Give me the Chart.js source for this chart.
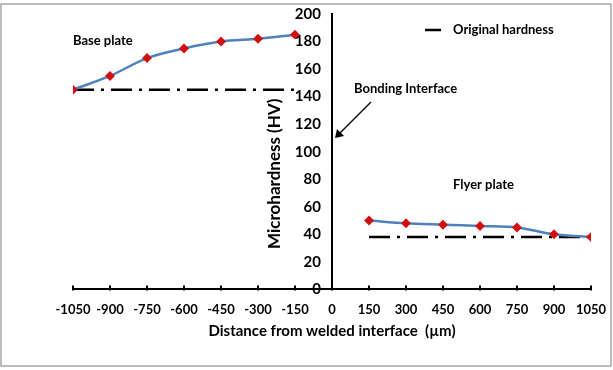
<!DOCTYPE html>
<html>
<head>
<meta charset="utf-8">
<script src="https://cdn.jsdelivr.net/npm/chart.js@4"></script>
<style>
  html, body { margin: 0; padding: 0; background: #fff; }
  canvas { display: block; }
</style>
</head>
<body>
<canvas id="hvChart" width="613" height="370"></canvas>
<script>
// tick values
const xTicks = [-1050, -900, -750, -600, -450, -300, -150, 0, 150, 300, 450, 600, 750, 900, 1050];
const yTicks = [0, 20, 40, 60, 80, 100, 120, 140, 160, 180, 200];

// base plate (left side)
const baseX = [-1050, -900, -750, -600, -450, -300, -150];
const baseHV = [145, 155, 168, 175, 180, 182, 185];
// flyer plate (right side)
const flyerX = [150, 300, 450, 600, 750, 900, 1050];
const flyerHV = [50, 48, 47, 46, 45, 40, 38];
// original hardness
const origBaseX = [-1050, -150];
const origBaseHV = [145, 145];
const origFlyerX = [150, 1050];
const origFlyerHV = [38, 38];

const toPts = (xs, ys) => xs.map((x, i) => ({ x: x, y: ys[i] }));

const FONT = "Lato";
const blue = "#4f81bd";
const red = "#d01010";

// texts, legend, arrow, frame, x tick marks, y title
const extras = {
  id: "extras",
  afterDraw(chart) {
    const ctx = chart.ctx;
    const xs = chart.scales.x;
    const ys = chart.scales.y;
    ctx.save();
    // frame
    ctx.strokeStyle = "#a6a6a6";
    ctx.lineWidth = 1.5;
    ctx.strokeRect(1, 4, 610, 362);
    // x tick marks (above the axis)
    ctx.strokeStyle = "#000";
    ctx.lineWidth = 2;
    xTicks.forEach(v => {
      const px = Math.round(xs.getPixelForValue(v));
      ctx.beginPath();
      ctx.moveTo(px, xs.top - 4);
      ctx.lineTo(px, xs.top + 1);
      ctx.stroke();
    });
    ctx.fillStyle = "#000";
    // y axis title
    ctx.save();
    ctx.translate(xs.getPixelForValue(0) - 57, ys.getPixelForValue(84));
    ctx.rotate(-Math.PI / 2);
    ctx.font = "bold 17px " + FONT;
    ctx.textAlign = "center";
    ctx.textBaseline = "middle";
    ctx.fillText("Microhardness (HV)", 0, 0);
    ctx.restore();
    // labels
    ctx.font = "bold 13px " + FONT;
    ctx.textBaseline = "middle";
    ctx.textAlign = "left";
    ctx.fillText("Base plate", 73, 41);
    ctx.fillText("Bonding Interface", 354, 89);
    ctx.fillText("Flyer plate", 453, 185);
    ctx.fillText("Original hardness", 453, 30);
    // legend sample
    ctx.lineWidth = 2.5;
    ctx.beginPath();
    ctx.moveTo(425, 30);
    ctx.lineTo(441, 30);
    ctx.stroke();
    // arrow
    ctx.lineWidth = 1.3;
    ctx.beginPath();
    ctx.moveTo(371, 102);
    ctx.lineTo(337, 136);
    ctx.stroke();
    ctx.beginPath();
    ctx.moveTo(335, 138);
    ctx.lineTo(337, 129);
    ctx.lineTo(344, 136);
    ctx.closePath();
    ctx.fill();
    ctx.restore();
  }
};

new Chart(document.getElementById("hvChart"), {
  type: "line",
  data: {
    datasets: [
      {
        label: "Base plate",
        data: toPts(baseX, baseHV),
        borderColor: blue,
        borderWidth: 2.5,
        tension: 0.3,
        pointStyle: "rectRot",
        pointRadius: 3.2,
        pointBackgroundColor: red,
        pointBorderColor: red
      },
      {
        label: "Flyer plate",
        data: toPts(flyerX, flyerHV),
        borderColor: blue,
        borderWidth: 2.5,
        tension: 0.3,
        pointStyle: "rectRot",
        pointRadius: 3.2,
        pointBackgroundColor: red,
        pointBorderColor: red
      },
      {
        label: "Original hardness",
        data: toPts(origBaseX, origBaseHV),
        borderColor: "#000",
        borderWidth: 2.5,
        borderDash: [21, 7, 3, 7],
        pointRadius: 0
      },
      {
        label: "Original hardness (flyer)",
        data: toPts(origFlyerX, origFlyerHV),
        borderColor: "#000",
        borderWidth: 2.5,
        borderDash: [21, 7, 3, 7],
        pointRadius: 0
      }
    ]
  },
  options: {
    responsive: false,
    animation: false,
    layout: { padding: { left: 73, right: 22, top: 14, bottom: 30 } },
    scales: {
      x: {
        type: "linear",
        min: -1050,
        max: 1050,
        afterBuildTicks: s => { s.ticks = xTicks.map(v => ({ value: v })); },
        afterFit: s => { s.paddingLeft = 0; s.paddingRight = 0; },
        grid: { display: false, drawTicks: false },
        border: { display: true, color: "#000", width: 2 },
        ticks: { color: "#000", font: { family: FONT, size: 13, weight: "bold" }, padding: 13, maxRotation: 0, autoSkip: false, callback: v => String(v) },
        title: { display: true, text: "Distance from welded interface  (µm)", color: "#000", font: { family: FONT, size: 15, weight: "bold" }, padding: { top: -9, bottom: 0 } }
      },
      y: {
        position: { x: 0 },
        min: 0,
        max: 200,
        afterBuildTicks: s => { s.ticks = yTicks.map(v => ({ value: v })); },
        afterFit: s => { s.paddingTop = 0; s.paddingBottom = 0; },
        grid: { display: false, drawTicks: false },
        border: { display: true, color: "#000", width: 2 },
        // label sits a little left of the axis line
        ticks: { color: "#000", font: { family: FONT, size: 15, weight: "bold" }, callback: v => String(v) + "\u2002 " }
      }
    },
    plugins: {
      legend: { display: false },
      tooltip: { enabled: false }
    }
  },
  plugins: [extras]
});
</script>
</body>
</html>
